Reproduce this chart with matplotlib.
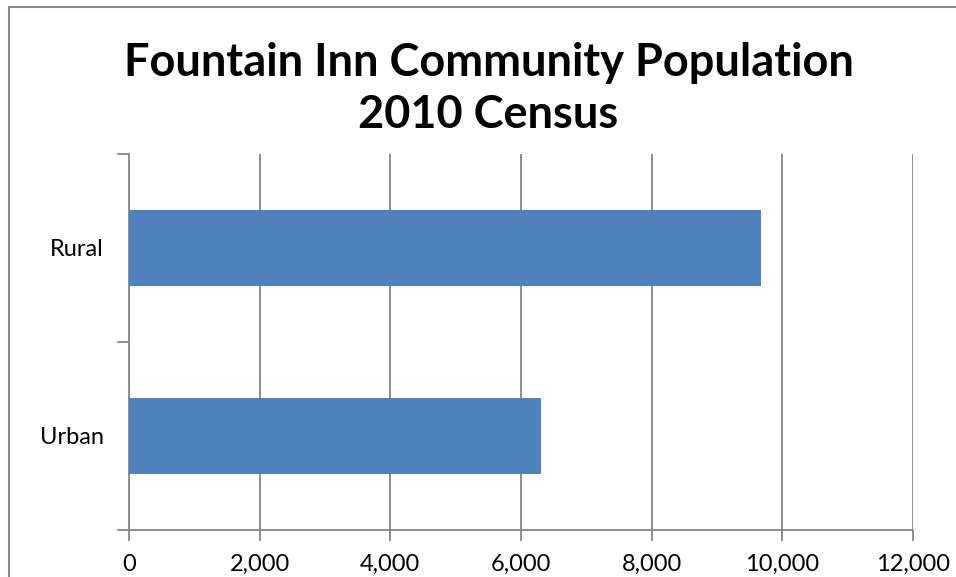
import matplotlib.pyplot as plt
from matplotlib.patches import Rectangle
from matplotlib.ticker import FuncFormatter

categories = ['Urban', 'Rural']
population = [6306, 9673]
x_ticks = [0, 2000, 4000, 6000, 8000, 10000, 12000]

plt.rcParams['font.family'] = ['Lato', 'DejaVu Sans']

fig = plt.figure(figsize=(9.56, 5.77), dpi=100)
ax = fig.add_axes([129/956, 47/577, 784/956, 376/577])

pos = list(range(len(categories)))
ax.barh(pos, population, height=0.4, color='#4F81BD', zorder=3)

ax.set_xlim(0, 12000)
ax.set_ylim(-0.5, len(categories) - 0.5)
ax.set_xticks(x_ticks)
ax.xaxis.set_major_formatter(FuncFormatter(lambda v, p: f'{int(v):,}'))
ax.grid(axis='x', color='#868686', linewidth=1.3, zorder=0)

# category labels in the middle, separator ticks between them
ax.set_yticks(pos)
ax.set_yticklabels(categories)
ax.set_yticks([i - 0.5 for i in range(len(categories) + 1)], minor=True)
ax.tick_params(axis='y', which='major', length=0, pad=18, labelsize=17)
ax.tick_params(axis='y', which='minor', length=9, width=1.3, color='#868686')
ax.tick_params(axis='x', length=8, width=1.3, color='#868686', pad=9, labelsize=17)

for s in ['top', 'right']:
    ax.spines[s].set_visible(False)
for s in ['left', 'bottom']:
    ax.spines[s].set_color('#868686')
    ax.spines[s].set_linewidth(1.3)

fig.text(0.511, 1 - 89/577, 'Fountain Inn Community Population\n2010 Census',
         ha='center', va='center', fontsize=32.5, fontweight='bold', linespacing=1.3)

# chart frame
fig.patches.append(Rectangle((9/956, -0.1), 1.2, 1 - 7/577 + 0.1, transform=fig.transFigure,
                             fill=False, edgecolor='#888888', linewidth=1.5))

fig.savefig('out.png', dpi=100)
